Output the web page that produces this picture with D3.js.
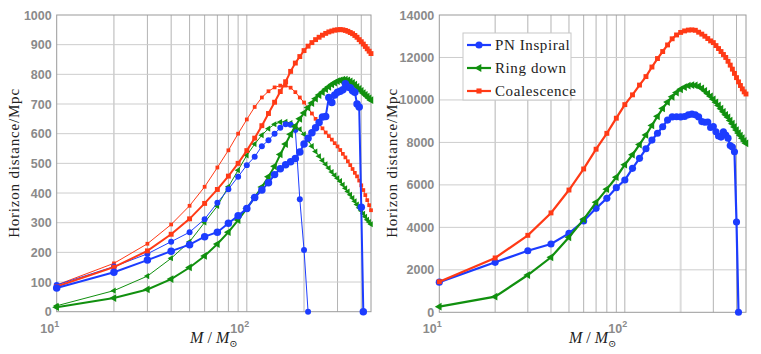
<!DOCTYPE html>
<html>
<head>
<meta charset="utf-8">
<script src="https://cdn.jsdelivr.net/npm/d3@7"></script>
<style>
  body { margin: 0; background: #fff; }
  svg { display: block; }
</style>
</head>
<body>
<div class="graph"></div>
<script>
// masses (solar masses) shared by all curves
const masses = [10, 20, 30, 40, 50, 60, 70, 80, 90, 100,
  110, 120, 130, 140, 150, 160, 170, 180, 190, 200,
  210, 220, 230, 240, 250, 260, 270, 280, 290, 300,
  310, 320, 330, 340, 350, 360, 370, 380, 390, 400,
  410, 420, 430, 440, 450];

// left panel (Mpc) - thick and thin curves
const leftInspThick = [80, 133, 174, 204, 226, 253, 268, 298, 323, 348,
  385, 410, 435, 462, 482, 495, 505, 516, 538, 565,
  585, 603, 620, 638, 656, 658, 722, 705, 730, 740,
  743, 748, 768, 757, 755, 745, 740, 700, 690, 352, 0];
const leftInspThin = [90, 152, 195, 236, 268, 312, 367, 413, 455, 494,
  522, 558, 578, 600, 620, 632, 630, 612, 379, 208, 0];
const leftRingThick = [15, 46, 75, 110, 149, 188, 228, 268, 309, 348,
  385, 420, 455, 490, 530, 565, 598, 625, 650, 670,
  688, 703, 718, 730, 740, 750, 758, 766, 772, 777,
  780, 782, 782, 780, 776, 771, 765, 758, 751, 744,
  737, 731, 725, 719, 713];
const leftRingThin = [20, 71, 120, 180, 236, 301, 356, 421, 477, 527,
  565, 595, 617, 632, 639, 640, 636, 627, 615, 598,
  578, 558, 540, 524, 510, 497, 484, 471, 460, 450,
  440, 428, 416, 405, 394, 383, 372, 361, 350, 340,
  330, 320, 310, 302, 295];
const leftCoalThick = [85, 150, 205, 261, 313, 365, 412, 457, 500, 543,
  585, 627, 668, 706, 742, 775, 810, 838, 860, 880,
  895, 907, 917, 925, 932, 938, 943, 946, 949, 950,
  951, 950, 948, 945, 941, 937, 931, 925, 917, 910,
  902, 894, 886, 878, 870];
const leftCoalThin = [90, 163, 229, 294, 357, 421, 486, 544, 600, 648,
  690, 722, 743, 756, 762, 762, 755, 740, 722, 705,
  686, 668, 650, 633, 618, 604, 592, 580, 568, 557,
  545, 532, 520, 507, 494, 481, 468, 456, 442, 426,
  410, 393, 376, 359, 342];

// right panel (Mpc)
const rightInsp = [1420, 2354, 2900, 3216, 3719, 4298, 4896, 5367, 5868, 6229,
  6780, 7250, 7700, 8110, 8430, 8740, 9050, 9200, 9210, 9200,
  9220, 9300, 9330, 9300, 9200, 8980, 8950, 8960, 8700, 8750,
  8500, 8300, 8250, 8500, 8350, 8200, 7850, 7780, 7560, 4250, 0];
const rightRing = [264, 735, 1756, 2590, 3531, 4378, 5178, 5800, 6360, 6950,
  7420, 7900, 8350, 8800, 9230, 9600, 9900, 10150, 10350, 10500,
  10600, 10670, 10700, 10690, 10640, 10550, 10430, 10300, 10170, 10030,
  9890, 9740, 9590, 9440, 9300, 9180, 9030, 8880, 8730, 8580,
  8440, 8320, 8200, 8070, 7960];
const rightCoal = [1440, 2560, 3625, 4680, 5758, 6750, 7680, 8427, 9140, 9780,
  10240, 10700, 11100, 11550, 11950, 12280, 12590, 12880, 13060, 13180,
  13250, 13290, 13300, 13280, 13190, 13100, 13000, 12890, 12780, 12700,
  12560, 12420, 12280, 12140, 12000, 11820, 11640, 11450, 11250, 11050,
  10850, 10680, 10520, 10380, 10280];

const legendLabels = ["PN Inspiral", "Ring down", "Coalescence"];
const xGridVals = [20, 30, 40, 50, 60, 70, 80, 90, 100, 200, 300, 400];
const leftYTicks = [0, 100, 200, 300, 400, 500, 600, 700, 800, 900, 1000];
const rightYTicks = [0, 2000, 4000, 6000, 8000, 10000, 12000, 14000];
const xTickVals = [10, 100];

const blue = "#1c3cff", green = "#11900f", red = "#ff3a16";

const svg = d3.select('.graph')
  .append('svg')
  .attr('width', 761)
  .attr('height', 354);

function panel(opt) {
  const x = d3.scaleLog().domain([10, 450]).range([opt.x0, opt.x1]);
  const y = d3.scaleLinear().domain([0, opt.ymax]).range([opt.y1, 15]);
  const g = svg.append('g');

  // grid
  g.selectAll('.gx').data(xGridVals).enter().append('line')
    .attr('x1', d => x(d)).attr('x2', d => x(d))
    .attr('y1', y(0)).attr('y2', y(opt.ymax))
    .attr('stroke', d => d == 200 ? '#dcdcdc' : '#b4b4b4')
    .attr('stroke-width', d => d == 200 ? 2 : 1);
  g.selectAll('.gy').data(opt.yticks.slice(1, -1)).enter().append('line')
    .attr('x1', opt.x0).attr('x2', opt.x1)
    .attr('y1', d => y(d)).attr('y2', d => y(d))
    .attr('stroke', '#cdcdcd').attr('stroke-width', 1);

  // box
  g.append('rect')
    .attr('x', opt.x0).attr('y', 15)
    .attr('width', opt.x1 - opt.x0).attr('height', opt.y1 - 15)
    .attr('fill', 'none').attr('stroke', '#9a9a9a').attr('stroke-width', 1);

  // y tick labels
  g.selectAll('.ty').data(opt.yticks).enter().append('text')
    .attr('x', opt.x0 - 5).attr('y', d => y(d) + 4.5)
    .attr('text-anchor', 'end')
    .style('font', 'bold 12.5px "Liberation Sans", Arial, sans-serif')
    .style('fill', '#8a8a8a')
    .text(d => d);

  // x tick labels 10^1, 10^2
  xTickVals.forEach(function (d) {
    const t = g.append('text')
      .attr('x', x(d) - 7).attr('y', opt.y1 + 21)
      .attr('text-anchor', 'middle')
      .style('font', 'bold 12.5px "Liberation Sans", Arial, sans-serif')
      .style('fill', '#8a8a8a');
    t.append('tspan').text('10');
    t.append('tspan').attr('dy', -6).style('font-size', '9px').text(Math.log10(d));
  });

  // axis labels
  g.append('text')
    .attr('transform', 'translate(' + opt.ylabX + ',163) rotate(-90)')
    .attr('text-anchor', 'middle')
    .style('font', '15px "Liberation Serif", "DejaVu Serif", serif')
    .style('letter-spacing', '0.8px')
    .style('fill', '#222')
    .text('Horizon distance/Mpc');
  const xl = g.append('text')
    .attr('x', (opt.x0 + opt.x1) / 2).attr('y', 343)
    .attr('text-anchor', 'middle')
    .style('font', '16px "Liberation Serif", "DejaVu Serif", serif')
    .style('fill', '#222');
  xl.append('tspan').style('font-style', 'italic').text('M');
  xl.append('tspan').text(' / ');
  xl.append('tspan').style('font-style', 'italic').text('M');
  xl.append('tspan').attr('dy', 4).style('font-size', '10px').text('\u2299');

  // curves
  opt.series.forEach(function (s) {
    const pts = s.values.map((v, i) => [masses[i], v]);
    const line = d3.line().x(d => x(d[0])).y(d => y(d[1]));
    g.append('path')
      .attr('d', line(pts))
      .attr('fill', 'none')
      .attr('stroke', s.color)
      .attr('stroke-width', s.w);
    const sym = d3.symbol().type(s.type).size(s.size);
    g.selectAll(null).data(pts).enter().append('path')
      .attr('d', sym)
      .attr('transform', d => 'translate(' + x(d[0]) + ',' + y(d[1]) + ')' + (s.rot ? ' rotate(-90)' : ''))
      .attr('fill', s.color);
  });
  return { x: x, y: y, g: g };
}

panel({
  x0: 56.7, x1: 371, y1: 311.7, ymax: 1000, yticks: leftYTicks, ylabX: 19,
  series: [
    { values: leftCoalThin, color: red, w: 1, type: d3.symbolSquare, size: 14 },
    { values: leftRingThin, color: green, w: 1, type: d3.symbolTriangle, size: 16, rot: true },
    { values: leftInspThin, color: blue, w: 1, type: d3.symbolCircle, size: 28 },
    { values: leftCoalThick, color: red, w: 2, type: d3.symbolSquare, size: 24 },
    { values: leftRingThick, color: green, w: 2, type: d3.symbolTriangle, size: 26, rot: true },
    { values: leftInspThick, color: blue, w: 2, type: d3.symbolCircle, size: 44 }
  ]
});

panel({
  x0: 439.3, x1: 746, y1: 312.3, ymax: 14000, yticks: rightYTicks, ylabX: 397,
  series: [
    { values: rightInsp, color: blue, w: 2.2, type: d3.symbolCircle, size: 40 },
    { values: rightRing, color: green, w: 2.2, type: d3.symbolTriangle, size: 26, rot: true },
    { values: rightCoal, color: red, w: 2.2, type: d3.symbolSquare, size: 24 }
  ]
});

// legend (right panel)
const lg = svg.append('g').attr('transform', 'translate(463,33)');
lg.append('rect')
  .attr('width', 108).attr('height', 67)
  .attr('fill', '#fff').attr('stroke', '#c8c8c8');
const legendMarks = [
  { color: blue, type: d3.symbolCircle, size: 40 },
  { color: green, type: d3.symbolTriangle, size: 28, rot: true },
  { color: red, type: d3.symbolSquare, size: 26 }
];
legendLabels.forEach(function (d, i) {
  const yy = 12 + i * 23;
  lg.append('line')
    .attr('x1', 4).attr('x2', 28).attr('y1', yy).attr('y2', yy)
    .attr('stroke', legendMarks[i].color).attr('stroke-width', 2.2);
  lg.append('path')
    .attr('d', d3.symbol().type(legendMarks[i].type).size(legendMarks[i].size))
    .attr('transform', 'translate(16,' + yy + ')' + (legendMarks[i].rot ? ' rotate(-90)' : ''))
    .attr('fill', legendMarks[i].color);
  lg.append('text')
    .attr('x', 32).attr('y', yy + 5)
    .style('font', '15px "Liberation Serif", "DejaVu Serif", serif')
    .style('letter-spacing', '0.6px')
    .style('fill', '#222')
    .text(d);
});
</script>
</body>
</html>
